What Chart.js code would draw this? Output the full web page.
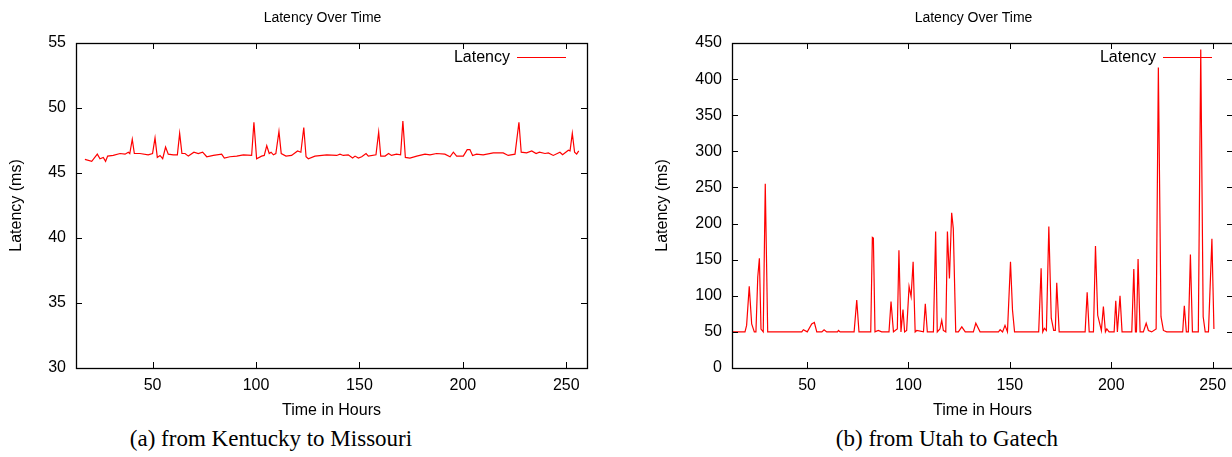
<!DOCTYPE html>
<html>
<head>
<meta charset="utf-8">
<script src="https://cdn.jsdelivr.net/npm/chart.js@4.4.1/dist/chart.umd.min.js"></script>
<style>
  body { margin: 0; width: 1232px; height: 457px; overflow: hidden; background: #fff; position: relative; }
  .box { position: absolute; top: 0; width: 620px; height: 425px; }
  .cap { position: absolute; top: 426px; font-family: "Liberation Serif", "DejaVu Serif", serif; font-size: 23px; color: #000; white-space: nowrap; transform: translateX(-50%); }
</style>
</head>
<body>
<div class="box" style="left:0"><canvas id="c1"></canvas></div>
<div class="box" style="left:640px"><canvas id="c2"></canvas></div>
<div class="cap" style="left:271px">(a) from Kentucky to Missouri</div>
<div class="cap" style="left:947px">(b) from Utah to Gatech</div>
<script>
// Kentucky -> Missouri (hours, ms)
const kyHours = [17.3, 20.6, 23.3, 24.6, 26.2, 27.3, 28.3, 31, 34.3, 36.7, 38.3, 39, 40.2, 41.2, 43.9, 47.9, 50, 51.2, 52.3, 53.6,
  54.9, 56.3, 57.6, 60, 62, 63.1, 64.2, 65.7, 67.3, 70, 72.1, 74.2, 76.2, 79.4, 83.4, 84.7, 87.4, 90.7, 93.9, 97.9,
  99, 100.3, 102.7, 104, 105.2, 106.4, 107.3, 108.4, 109.6, 111.1, 112.2, 114.5, 117.2, 120.1, 121.7, 123.1, 124.2, 125.3, 128.5, 134.2,
  139, 140.6, 142.2, 144.6, 146.7, 147.9, 149.5, 151.1, 153.2, 154.3, 158, 159.3, 160.3, 162.4, 164.1, 165.5, 167.9, 169.9, 171, 172.2,
  174.4, 177.7, 181.7, 184.1, 187.3, 191.3, 193.8, 195.4, 197, 200.2, 202.1, 203.4, 204.7, 206.6, 209.8, 214.7, 219.5, 221.9, 225.2, 227.1,
  228.2, 230.8, 233.3, 235.4, 237, 239.7, 241.3, 243.7, 246.9, 248.2, 251, 251.8, 252.9, 254, 255, 256];
const kyLatency = [46.05, 45.9, 46.45, 46.1, 46.2, 45.9, 46.3, 46.35, 46.5, 46.45, 46.6, 46.5, 47.6, 46.5, 46.5, 46.4, 46.5, 47.7, 46.2, 46.35,
  46.1, 47.0, 46.45, 46.4, 46.4, 48.05, 46.5, 46.5, 46.3, 46.6, 46.5, 46.6, 46.25, 46.35, 46.45, 46.15, 46.25, 46.3, 46.4, 46.35,
  48.9, 46.1, 46.3, 46.35, 47.1, 46.5, 46.6, 46.4, 46.5, 48.2, 46.5, 46.3, 46.35, 46.7, 46.6, 48.5, 46.25, 46.1, 46.3, 46.4,
  46.35, 46.45, 46.35, 46.4, 46.15, 46.3, 46.15, 46.25, 46.5, 46.3, 46.4, 48.15, 46.3, 46.3, 46.5, 46.35, 46.45, 46.4, 49.0, 46.2,
  46.15, 46.3, 46.45, 46.4, 46.5, 46.45, 46.25, 46.6, 46.3, 46.3, 46.8, 46.8, 46.35, 46.45, 46.4, 46.55, 46.55, 46.35, 46.45, 48.9,
  46.6, 46.55, 46.7, 46.5, 46.6, 46.5, 46.55, 46.35, 46.6, 46.4, 46.75, 46.7, 48.05, 46.6, 46.45, 46.7];

// Utah -> Gatech (hours, ms)
const utHours = [13, 19.4, 20.2, 21.5, 22.7, 24, 24.8, 25.7, 26.5, 27.3, 28.4, 29.4, 30.6, 47.4, 48.2, 50.1, 52.3, 53.6, 54.8, 57.3,
  58.4, 59.7, 65, 65.5, 66.3, 73.2, 74.5, 75.6, 81.4, 82.2, 82.7, 83.5, 85.1, 86.8, 90.4, 91.4, 92.6, 93.9, 94.5, 95.3,
  96.3, 97.3, 98.1, 99.1, 100.3, 101.3, 102.3, 103.3, 104.1, 107.4, 108.3, 109.3, 112.3, 113.4, 114.2, 115.5, 116.4, 117.2, 118.4, 119.2,
  120.2, 121.3, 122.1, 123.3, 124.6, 126.3, 128, 132, 133.2, 135.3, 144.4, 145.2, 146.4, 147.6, 148.8, 150.3, 151.3, 152.3, 164.2, 165.4,
  166.2, 167, 168, 169.2, 170.4, 171.6, 172.4, 173.1, 174.3, 187.1, 188.1, 189.1, 191.2, 192.2, 193.3, 194.5, 195.1, 196.1, 197.1, 197.8,
  198.9, 201.4, 202.2, 203, 204.3, 205.3, 210.1, 211.1, 211.9, 212.4, 213.2, 214.2, 215.8, 217.2, 218.3, 219.9, 222.1, 223.2, 224.5, 225.7,
  227.3, 235.2, 236, 237, 238, 239, 240, 242.9, 244.1, 245.3, 246.3, 247.9, 249.6, 250.6];
const utLatency = [50, 50, 59, 113, 61, 50, 50, 126, 152, 54, 50, 255, 50, 50, 53, 50, 61, 63, 50, 50,
  53, 50, 50, 52, 50, 50, 94, 50, 50, 181, 180, 50, 52, 50, 50, 92, 50, 53, 54, 163,
  50, 81, 50, 52, 113, 99, 147, 50, 52, 50, 89, 50, 50, 189, 50, 54, 66, 52, 50, 189,
  124, 215, 193, 50, 50, 57, 50, 50, 62, 50, 50, 53, 50, 59, 50, 147, 80, 50, 50, 138,
  50, 55, 52, 196, 69, 52, 52, 118, 50, 50, 105, 50, 50, 169, 73, 59, 52, 85, 50, 54,
  50, 50, 93, 50, 100, 50, 50, 137, 50, 50, 151, 50, 50, 62, 52, 50, 54, 416, 71, 52,
  50, 50, 86, 50, 50, 157, 50, 50, 441, 71, 50, 50, 179, 54];

const xTicks = [50, 100, 150, 200, 250];
const kyYTicks = [30, 35, 40, 45, 50, 55];
const utYTicks = [0, 50, 100, 150, 200, 250, 300, 350, 400, 450];

const SANS = '"Liberation Sans", Arial, sans-serif';

// gnuplot style frame, inward ticks, key and title
const gnuFrame = {
  id: 'gnuFrame',
  afterDraw(chart) {
    const { ctx, chartArea: a, scales } = chart;
    const t = 6;
    ctx.save();
    ctx.strokeStyle = '#000';
    ctx.lineWidth = 1;
    ctx.beginPath();
    scales.x.ticks.forEach(tk => {
      const x = Math.round(scales.x.getPixelForValue(tk.value)) + 0.5;
      ctx.moveTo(x, a.bottom); ctx.lineTo(x, a.bottom - t);
      ctx.moveTo(x, a.top); ctx.lineTo(x, a.top + t);
    });
    scales.y.ticks.forEach(tk => {
      const y = Math.round(scales.y.getPixelForValue(tk.value)) + 0.5;
      ctx.moveTo(a.left, y); ctx.lineTo(a.left + t, y);
      ctx.moveTo(a.right, y); ctx.lineTo(a.right - t, y);
    });
    ctx.stroke();
    ctx.lineWidth = 1.3;
    ctx.strokeRect(Math.round(a.left) + 0.5, Math.round(a.top) + 0.5, Math.round(a.right - a.left), Math.round(a.bottom - a.top));

    // title
    ctx.fillStyle = '#000';
    ctx.font = '14px ' + SANS;
    ctx.textAlign = 'center';
    ctx.textBaseline = 'middle';
    ctx.fillText('Latency Over Time', (a.left + a.right) / 2 - 9, 18);

    // key
    const ds = chart.data.datasets[0];
    ctx.font = '16px ' + SANS;
    ctx.textAlign = 'right';
    ctx.fillText(ds.label, a.right - 77, a.top + 15);
    ctx.strokeStyle = ds.borderColor;
    ctx.lineWidth = 1;
    ctx.beginPath();
    ctx.moveTo(a.right - 70, a.top + 14.5);
    ctx.lineTo(a.right - 21, a.top + 14.5);
    ctx.stroke();
    ctx.restore();
  }
};

function makeChart(id, hours, latency, yMin, yMax, yTicks, yAxisWidth, yTitlePad, padRight) {
  const pts = hours.map((h, i) => ({ x: h, y: latency[i] }));
  return new Chart(document.getElementById(id), {
    type: 'line',
    data: {
      datasets: [{
        label: 'Latency',
        data: pts,
        borderColor: '#ff0000',
        borderWidth: 1.2,
        pointRadius: 0,
        tension: 0,
        fill: false
      }]
    },
    options: {
      responsive: true,
      maintainAspectRatio: false,
      animation: false,
      layout: { padding: { top: 43, right: padRight, left: 0, bottom: 0 } },
      plugins: { legend: { display: false }, tooltip: { enabled: false }, title: { display: false } },
      scales: {
        x: {
          type: 'linear',
          min: 13,
          max: 260,
          afterBuildTicks: s => { s.ticks = xTicks.map(v => ({ value: v })); },
          afterFit: s => { s.height = 57; },
          grid: { display: false, drawTicks: false },
          border: { display: false },
          ticks: { color: '#000', font: { family: SANS, size: 16 }, padding: 8, maxRotation: 0 },
          title: { display: true, text: 'Time in Hours', color: '#000', font: { family: SANS, size: 16 }, padding: { top: 0, bottom: 5 } }
        },
        y: {
          min: yMin,
          max: yMax,
          afterBuildTicks: s => { s.ticks = yTicks.map(v => ({ value: v })); },
          afterFit: s => { s.width = yAxisWidth; },
          grid: { display: false, drawTicks: false },
          border: { display: false },
          ticks: { color: '#000', font: { family: SANS, size: 16 }, padding: 10 },
          title: { display: true, text: 'Latency (ms)', color: '#000', font: { family: SANS, size: 16 }, padding: { top: yTitlePad, bottom: 0 } }
        }
      }
    },
    plugins: [gnuFrame]
  });
}

makeChart('c1', kyHours, kyLatency, 30, 55, kyYTicks, 76, 7, 33);
makeChart('c2', utHours, utLatency, 0, 450, utYTicks, 92, 13, 27);
</script>
</body>
</html>
